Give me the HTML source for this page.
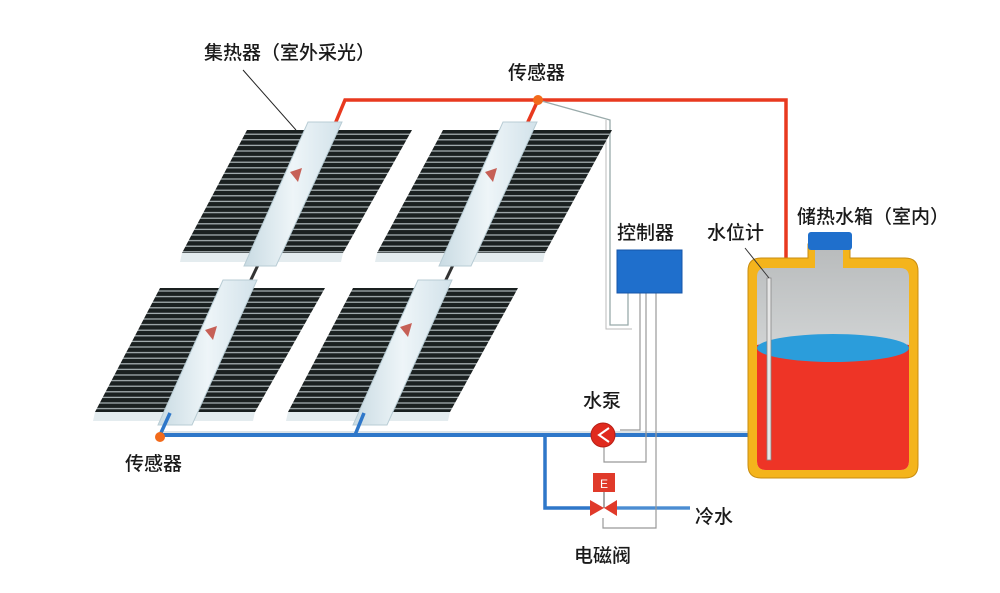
<!DOCTYPE html>
<html><head><meta charset="utf-8"><style>
html,body{margin:0;padding:0;background:#fff;}
svg text{font-family:"Liberation Sans","Noto Sans CJK SC",sans-serif;fill:#1a1a1a;font-weight:500;}
</style></head><body>
<svg width="1000" height="588" viewBox="0 0 1000 588" xmlns="http://www.w3.org/2000/svg">
<defs>
<pattern id="tubes" width="8" height="5.6" patternUnits="userSpaceOnUse">
<rect width="8" height="5.6" fill="#aeb8ba"/>
<rect y="0.4" width="8" height="4.4" fill="#1a2020"/>
</pattern>
<linearGradient id="hdr" x1="0" x2="1" y1="0" y2="0">
<stop offset="0" stop-color="#c9dbe3"/><stop offset="0.5" stop-color="#eef5f8"/><stop offset="1" stop-color="#d2e2ea"/>
</linearGradient>
<linearGradient id="air" x1="0" x2="0" y1="0" y2="1">
<stop offset="0" stop-color="#b9bcbd"/><stop offset="1" stop-color="#eef0f0"/>
</linearGradient>
</defs>

<polyline points="335,124 345,100 786,100 786,293" fill="none" stroke="#e8391f" stroke-width="3.5"/>
<line x1="527" y1="124" x2="538" y2="100" stroke="#e8391f" stroke-width="3.5"/>

<polyline points="538,100 610,120 610,325 628,325 628,293" fill="none" stroke="#9aa" stroke-width="1.3"/>
<polyline points="606,120 606,329 632,329" fill="none" stroke="#bbb" stroke-width="1"/>

<polygon points="247,130 412,130 343,253 182,253" fill="url(#tubes)"/>
<polygon points="443,130 612,130 545,253 377,253" fill="url(#tubes)"/>
<polygon points="160,288 325,288 255,412 95,412" fill="url(#tubes)"/>
<polygon points="353,288 518,288 450,412 288,412" fill="url(#tubes)"/>
<polygon points="182,253 343,253 341,262 180,262" fill="#e4ecef"/>
<polygon points="377,253 545,253 543,262 375,262" fill="#e4ecef"/>
<polygon points="95,412 255,412 253,421 93,421" fill="#e4ecef"/>
<polygon points="288,412 450,412 448,421 286,421" fill="#e4ecef"/>
<line x1="258" y1="265" x2="247" y2="288" stroke="#333" stroke-width="3"/>
<line x1="453" y1="265" x2="442" y2="288" stroke="#333" stroke-width="3"/>
<polygon points="308,122 342,122 276,266 244,266" fill="url(#hdr)" stroke="#b8ccd4" stroke-width="1"/>
<polygon points="503,122 537,122 471,266 439,266" fill="url(#hdr)" stroke="#b8ccd4" stroke-width="1"/>
<polygon points="223,280 257,280 192,425 158,425" fill="url(#hdr)" stroke="#b8ccd4" stroke-width="1"/>
<polygon points="418,280 452,280 387,425 353,425" fill="url(#hdr)" stroke="#b8ccd4" stroke-width="1"/>
<g fill="#c0453a" opacity="0.85">
<path d="M290,172 l12,-4 l-4,14 z"/><path d="M485,172 l12,-4 l-4,14 z"/>
<path d="M205,330 l12,-4 l-4,14 z"/><path d="M400,327 l12,-4 l-4,14 z"/>
</g>

<line x1="243" y1="70" x2="296" y2="130" stroke="#222" stroke-width="1"/>

<line x1="160" y1="435" x2="752" y2="435" stroke="#2e77c9" stroke-width="4"/>
<line x1="160" y1="432" x2="752" y2="432" stroke="#b7c7d2" stroke-width="1"/>
<line x1="170" y1="413" x2="160" y2="435" stroke="#2e77c9" stroke-width="3.5"/>
<line x1="364" y1="413" x2="355" y2="435" stroke="#2e77c9" stroke-width="3.5"/>
<polyline points="545,435 545,508 590,508" fill="none" stroke="#2e77c9" stroke-width="3.5"/>
<line x1="615" y1="508" x2="690" y2="508" stroke="#7fb0e0" stroke-width="4"/>
<line x1="615" y1="508" x2="690" y2="508" stroke="#2e77c9" stroke-width="1.2"/>

<polyline points="640,293 640,430 620,430" fill="none" stroke="#999" stroke-width="1.2"/>
<polyline points="646,293 646,462 604,462 604,447" fill="none" stroke="#999" stroke-width="1.2"/>
<polyline points="656,293 656,528 603,528 603,518" fill="none" stroke="#999" stroke-width="1.2"/>

<rect x="617" y="250" width="65" height="43" fill="#1f6fcc"/>
<rect x="617" y="250" width="65" height="43" fill="none" stroke="#1555a8" stroke-width="1"/>

<circle cx="603" cy="435" r="12" fill="#e02a1e" stroke="#b81e14" stroke-width="1"/>
<polyline points="609,428 599,435 609,442" fill="none" stroke="#fff" stroke-width="2"/>

<rect x="593" y="473" width="22" height="19" fill="#e03a2a"/>
<text x="604" y="488" font-size="12" font-weight="bold" text-anchor="middle" style="fill:#fff">E</text>
<line x1="604" y1="492" x2="604" y2="508" stroke="#555" stroke-width="1"/>
<polygon points="590,500 604,508 590,516" fill="#e03a2a"/>
<polygon points="617,500 604,508 617,516" fill="#e03a2a"/>

<path d="M808,258 L808,244 L850,244 L850,258 L905,258 Q918,258 918,271 L918,465 Q918,478 905,478 L761,478 Q748,478 748,465 L748,271 Q748,258 761,258 Z" fill="#f4b41c" stroke="#c98d10" stroke-width="1"/>
<path d="M815,268 L815,250 L843,250 L843,268 L900,268 Q909,268 909,277 L909,461 Q909,470 900,470 L766,470 Q757,470 757,461 L757,277 Q757,268 766,268 Z" fill="url(#air)"/>
<path d="M757,345 Q833,330 909,345 L909,461 Q909,470 900,470 L766,470 Q757,470 757,461 Z" fill="#ee3426"/>
<ellipse cx="833" cy="348" rx="76" ry="14" fill="#2b9ddb"/>
<rect x="808" y="232" width="44" height="18" rx="3" fill="#1f6fcc"/>
<rect x="767" y="278" width="4" height="182" fill="#e6e6e6" stroke="#888" stroke-width="0.8"/>
<line x1="745" y1="248" x2="769" y2="278" stroke="#333" stroke-width="1"/>

<circle cx="538" cy="100" r="5" fill="#f26a1b"/>
<circle cx="160" cy="437" r="5" fill="#f26a1b"/>

<text x="204" y="59" font-size="19">集热器（室外采光）</text>
<text x="508" y="79" font-size="19">传感器</text>
<text x="617" y="239" font-size="19">控制器</text>
<text x="707" y="239" font-size="19">水位计</text>
<text x="797" y="223" font-size="19">储热水箱（室内）</text>
<text x="583" y="407" font-size="19">水泵</text>
<text x="125" y="470" font-size="19">传感器</text>
<text x="695" y="523" font-size="19">冷水</text>
<text x="574" y="562" font-size="19">电磁阀</text>
</svg>
</body></html>
